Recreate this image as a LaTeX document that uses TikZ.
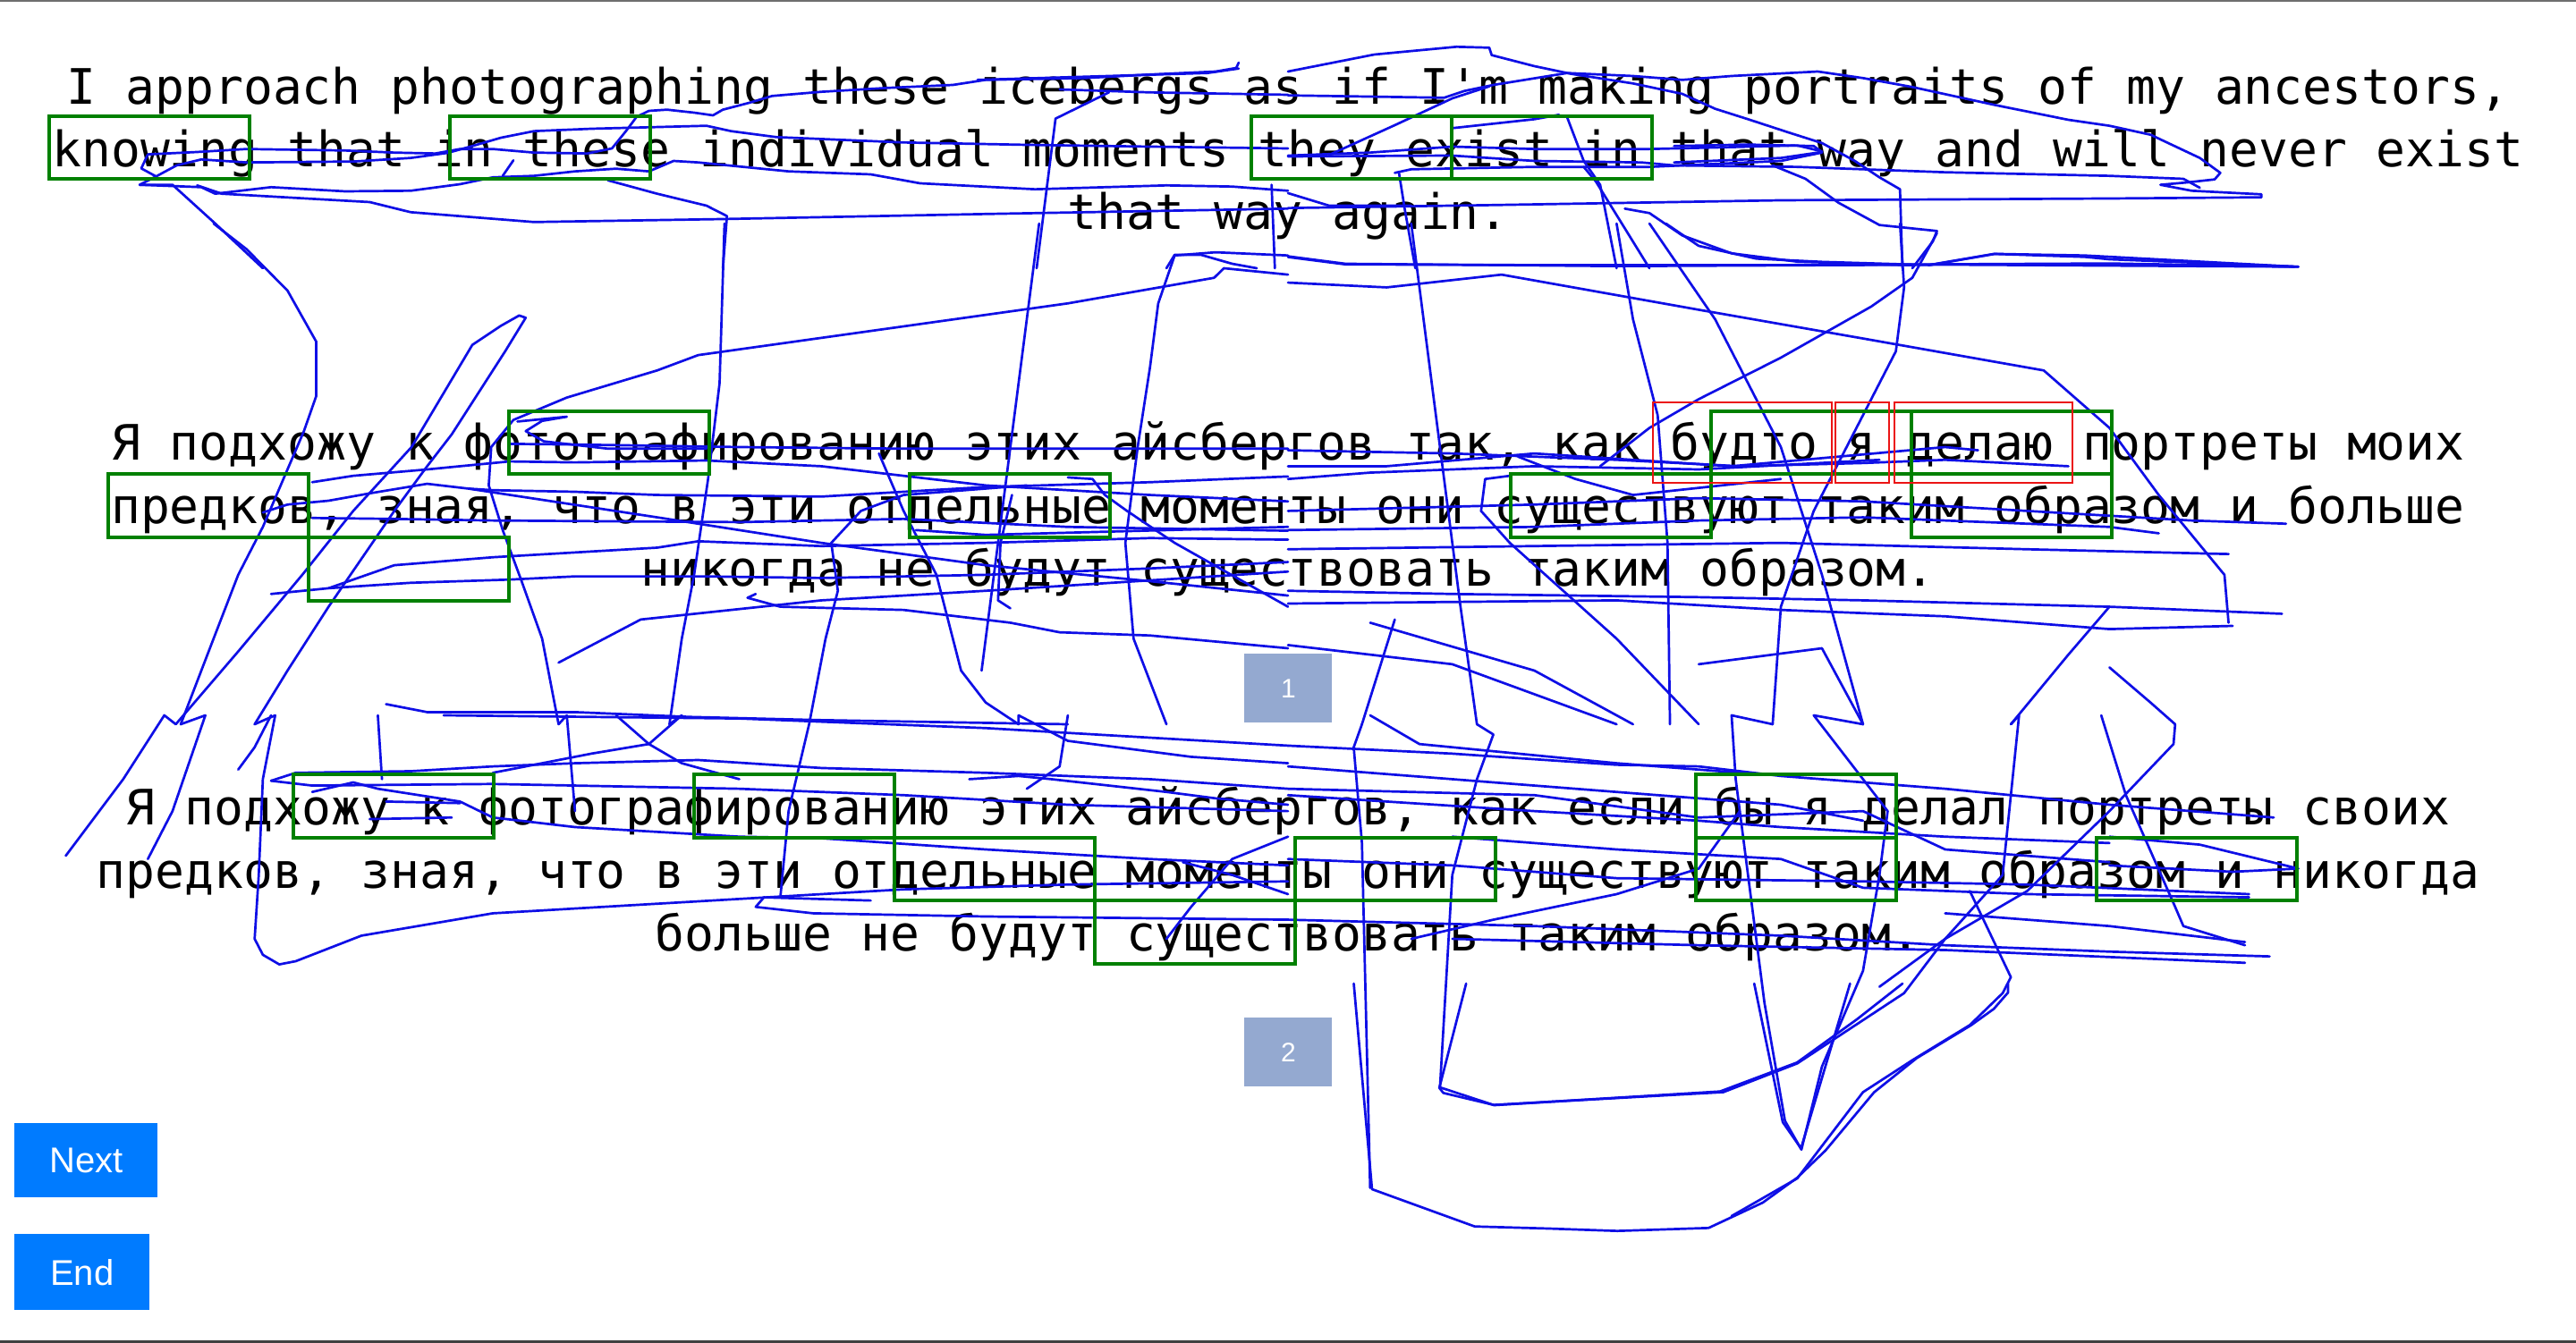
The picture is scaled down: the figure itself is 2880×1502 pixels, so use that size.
\documentclass[tikz,border=0pt]{standalone}
\usepackage{fontspec}
\setmonofont{DejaVu Sans Mono}
\newfontfamily\btnfont{Liberation Sans}
\definecolor{gazeblue}{RGB}{15,15,230}
\definecolor{boxgreen}{RGB}{0,128,0}
\definecolor{boxred}{RGB}{235,20,20}
\definecolor{btnblue}{RGB}{0,123,255}
\definecolor{pagebox}{RGB}{148,169,208}
\definecolor{topgray}{RGB}{110,110,110}
\definecolor{botgray}{RGB}{64,64,64}
\tikzset{
  txt/.style={font=\ttfamily\frenchspacing\fontsize{27.32pt}{34pt}\selectfont, anchor=base, inner sep=0pt},
  aoi/.style={draw=boxgreen, line width=2pt},
  wordbox/.style={draw=boxred, line width=1.2pt},
  gaze/.style={draw=gazeblue, line width=1.35pt, line join=round, line cap=round},
  button/.style={fill=btnblue, text=white, font=\btnfont\fontsize{20pt}{24pt}\selectfont, inner sep=0pt, anchor=north west},
  pagenum/.style={fill=pagebox, text=white, font=\btnfont\fontsize{15pt}{18pt}\selectfont, inner sep=0pt, anchor=north west, minimum width=49pt, minimum height=38.5pt},
  zA/.style={xscale=0.91837, yscale=0.33333},
  zB/.style={xscale=0.91837, yscale=0.35714},
  zC/.style={xscale=0.63776, yscale=0.33333},
}
\begin{document}
\begin{tikzpicture}[x=0.5pt, y=-0.5pt]
\fill[white] (0,0) rectangle (2880,1502);
\useasboundingbox (0,0) rectangle (2880,1502);
\draw[topgray, line width=1pt] (0,1) -- (2880,1);
\fill[botgray] (0,1498.5) rectangle (2880,1502);

% ---------- texts ----------
\node[txt] (en1) at (1440,117) {I approach photographing these icebergs as if I'm making portraits of my ancestors,};
\node[txt] (en2) at (1440,187) {knowing that in these individual moments they exist in that way and will never exist};
\node[txt] (en3) at (1440,257) {that way again.};
\node[txt] (ra1) at (1440,515) {Я подхожу к фотографированию этих айсбергов так, как будто я делаю портреты моих};
\node[txt] (ra2) at (1440,585.5) {предков, зная, что в эти отдельные моменты они существуют таким образом и больше};
\node[txt] (ra3) at (1440,655.5) {никогда не будут существовать таким образом.};
\node[txt] (rb1) at (1440,922) {Я подхожу к фотографированию этих айсбергов, как если бы я делал портреты своих};
\node[txt] (rb2) at (1440,993) {предков, зная, что в эти отдельные моменты они существуют таким образом и никогда};
\node[txt] (rb3) at (1440,1063) {больше не будут существовать таким образом.};

% ---------- page number boxes and buttons ----------
\node[pagenum] (p1) at (1391,731) {1};
\node[pagenum] (p2) at (1391,1138) {2};
\node[button, minimum width=80pt, minimum height=41.5pt] (next) at (16,1256) {Next};
\node[button, minimum width=75.5pt, minimum height=42.5pt] (end) at (16,1380) {End};

% ---------- gaze trace ----------
\begin{scope}[shift={(0,0)}, zA]
\draw[gaze] plot coordinates {(1508,210) (1505,228) (1480,240) (1400,250) (1320,262) (1200,268) (1160,285) (1080,295) (1000,308) (940,322) (912,345) (880,368) (868,387) (845,378) (812,368) (790,372) (775,392) (762,440) (745,498) (715,515) (650,512) (600,500) (560,500) (530,515) (480,512) (420,505) (300,500) (240,510) (180,518)};
\draw[gaze] plot coordinates {(180,518) (172,565) (190,592) (215,555) (245,535) (300,545) (430,542) (500,530) (545,513) (575,490) (610,462) (650,440) (720,432) (860,422) (890,440) (945,460) (1100,478) (1250,486) (1400,492) (1568,498)};
\draw[gaze] plot coordinates {(170,620) (245,628) (262,650) (330,628) (420,642) (500,640) (560,618) (600,595) (650,590) (700,575) (750,566) (790,575) (820,540) (850,545) (960,575) (1060,585) (1120,615) (1260,635) (1420,622) (1500,626) (1568,640)};
\draw[gaze] plot coordinates {(240,622) (270,650) (450,678) (500,712) (650,745) (880,735) (1200,718) (1568,700)};
\draw[gaze] plot coordinates {(190,592) (170,620) (210,620) (262,750) (320,900)};
\draw[gaze] plot coordinates {(740,605) (800,650) (860,690) (885,725) (880,900)};
\draw[gaze] plot coordinates {(1350,310) (1285,398) (1262,900)};
\draw[gaze] plot coordinates {(1420,900) (1430,855) (1462,855) (1500,885) (1530,900)};
\draw[gaze] plot coordinates {(1548,620) (1552,900)};
\draw[gaze] plot coordinates {(625,538) (612,590)};
\draw[gaze] plot coordinates {(1190,268) (1350,255) (1470,245) (1508,230)};
\draw[gaze] plot coordinates {(1290,300) (1400,310) (1568,318)};
\end{scope}

\begin{scope}[shift={(1440,0)}, zA]
\draw[gaze] plot coordinates {(0,240) (105,183) (205,157) (245,160) (248,185) (300,222) (345,248) (420,280) (480,315) (520,365) (560,400) (610,445) (650,480) (690,540) (720,595) (745,635) (748,900)};
\draw[gaze] plot coordinates {(0,320) (120,325) (190,328) (215,305) (250,285) (340,245) (420,255) (480,268) (540,255) (645,240) (700,262) (760,292) (860,352) (950,402) (1000,422) (1050,452) (1110,530) (1135,580) (1128,602) (1095,612) (1062,620) (1100,640) (1185,652) (1185,662) (1000,666) (600,672) (250,688) (0,698)};
\draw[gaze] plot coordinates {(0,522) (100,512) (200,492) (300,500) (440,500) (520,495) (620,488) (650,508)};
\draw[gaze] plot coordinates {(0,525) (200,522) (300,540) (430,545) (470,555) (620,560) (800,578) (1000,590) (1090,600) (1110,630)};
\draw[gaze] plot coordinates {(130,580) (150,568) (300,560) (440,560) (600,540) (650,512)};
\draw[gaze] plot coordinates {(135,578) (142,700) (155,900)};
\draw[gaze] plot coordinates {(340,395) (360,540) (380,620) (400,900)};
\draw[gaze] plot coordinates {(360,560) (375,610) (440,900)};
\draw[gaze] plot coordinates {(0,860) (70,885) (400,893) (800,888) (1230,895)};
\draw[gaze] plot coordinates {(410,700) (440,715) (480,790) (540,850) (620,878) (760,890)};
\draw[gaze] plot coordinates {(590,555) (630,600) (670,680) (720,755) (790,775) (785,810) (760,900)};
\draw[gaze] plot coordinates {(780,890) (860,852) (970,862) (1000,870) (1230,895)};
\draw[gaze] plot coordinates {(0,648) (50,690) (150,690)};
\draw[gaze] plot coordinates {(50,520) (130,420) (200,330) (245,290)};
\draw[gaze] plot coordinates {(200,430) (300,400) (330,385)};
\draw[gaze] plot coordinates {(470,490) (560,485) (640,490) (650,510) (600,530) (470,545)};
\end{scope}

\begin{scope}[shift={(0,250)}, zB]
\draw[gaze] plot coordinates {(260,0) (300,80) (350,210) (385,370) (385,540) (370,650) (345,800) (320,950) (290,1100) (260,1300) (220,1568)};
\draw[gaze] plot coordinates {(632,288) (640,295) (615,400) (585,520) (550,660) (520,760) (480,900) (440,1050) (400,1200) (350,1400) (310,1568)};
\draw[gaze] plot coordinates {(632,288) (610,320) (575,380) (501,700) (430,900) (368,1100) (290,1340) (214,1568)};
\draw[gaze] plot coordinates {(1568,100) (1480,90) (1430,100) (1410,250) (1400,450) (1385,700) (1370,1000) (1380,1300) (1420,1568)};
\draw[gaze] plot coordinates {(1568,160) (1490,140) (1478,170) (1300,250) (850,412) (800,460) (690,545) (625,615) (598,700) (595,820) (612,960) (635,1120) (660,1300) (680,1568)};
\draw[gaze] plot coordinates {(882,0) (876,500) (862,800) (845,1100) (830,1300) (815,1568)};
\draw[gaze] plot coordinates {(1265,0) (1245,400) (1225,800) (1205,1200) (1195,1400)};
\draw[gaze] plot coordinates {(620,690) (700,692) (900,700) (1100,705) (1568,705)};
\draw[gaze] plot coordinates {(630,620) (690,605) (660,618) (640,650) (662,682) (740,705) (860,705)};
\draw[gaze] plot coordinates {(380,810) (430,790) (520,770) (620,745) (700,748) (860,742) (1000,760) (1200,820) (1400,850) (1568,870)};
\draw[gaze] plot coordinates {(320,905) (350,880) (400,868) (450,845) (520,815) (570,830) (600,835) (700,840) (800,850) (1000,855) (1200,825) (1400,810) (1568,792)};
\draw[gaze] plot coordinates {(380,922) (480,925) (600,930) (900,935) (1100,925) (1300,950) (1568,962)};
\draw[gaze] plot coordinates {(570,830) (800,920) (1000,1000) (1200,1070) (1400,1120) (1568,1165)};
\draw[gaze] plot coordinates {(330,1160) (400,1142) (500,1125) (620,1115) (700,1105) (860,1105) (1000,1110) (1200,1100) (1400,1080) (1568,1060)};
\draw[gaze] plot coordinates {(400,1142) (480,1070) (600,1045) (800,1015) (850,995) (1000,1010) (1200,1000) (1400,985) (1568,990)};
\draw[gaze] plot coordinates {(920,1160) (910,1172) (950,1200) (1100,1210) (1230,1250) (1290,1280) (1400,1290) (1568,1330)};
\draw[gaze] plot coordinates {(680,1375) (780,1240) (1000,1180) (1200,1150) (1568,1090)};
\draw[gaze] plot coordinates {(470,1505) (520,1530) (700,1530) (840,1545) (1000,1555) (1300,1568)};
\draw[gaze] plot coordinates {(1070,720) (1100,900) (1140,1100) (1170,1400) (1200,1500) (1240,1568)};
\draw[gaze] plot coordinates {(1300,795) (1330,800) (1345,850) (1372,900) (1430,1000) (1568,1200)};
\draw[gaze] plot coordinates {(985,1568) (1005,1300) (1020,1150) (1012,1000) (1048,900) (1100,850) (1250,820)};
\draw[gaze] plot coordinates {(1230,1205) (1215,1180) (1218,1000) (1232,850)};
\draw[gaze] plot coordinates {(1115,960) (1200,975) (1568,950)};
\end{scope}

\begin{scope}[shift={(1440,250)}, zB]
\draw[gaze] plot coordinates {(0,105) (70,128) (300,130) (600,130) (1000,125) (1225,135)};
\draw[gaze] plot coordinates {(0,185) (120,200) (260,160) (500,270) (700,360) (920,460) (1000,640) (1060,850) (1140,1100) (1145,1250)};
\draw[gaze] plot coordinates {(150,0) (170,400) (190,800) (210,1200) (230,1568)};
\draw[gaze] plot coordinates {(400,0) (420,300) (450,600) (462,1000) (465,1568)};
\draw[gaze] plot coordinates {(440,0) (520,300) (550,450) (600,700) (650,1100) (700,1568)};
\draw[gaze] plot coordinates {(790,30) (760,170) (710,260) (600,420) (500,550) (440,640) (380,760)};
\draw[gaze] plot coordinates {(745,0) (750,200) (740,400) (700,600) (640,900) (600,1200) (590,1568)};
\draw[gaze] plot coordinates {(460,0) (500,70) (570,110) (650,120) (780,130) (860,95) (970,100) (1225,135)};
\draw[gaze] plot coordinates {(0,710) (200,720) (400,740) (550,760) (700,750) (800,740) (950,760)};
\draw[gaze] plot coordinates {(0,800) (100,780) (300,760) (500,770) (720,740)};
\draw[gaze] plot coordinates {(0,900) (300,880) (500,860) (700,870) (900,900) (1100,930) (1215,940)};
\draw[gaze] plot coordinates {(0,960) (300,950) (500,930) (700,920) (1000,950) (1060,970)};
\draw[gaze] plot coordinates {(0,1020) (300,1010) (600,1000) (900,1020) (1145,1035)};
\draw[gaze] plot coordinates {(0,1150) (200,1160) (500,1170) (700,1180) (1000,1200) (1210,1222)};
\draw[gaze] plot coordinates {(0,1190) (400,1180) (600,1210) (800,1230) (1000,1270) (1150,1260)};
\draw[gaze] plot coordinates {(0,1320) (200,1380) (400,1568)};
\draw[gaze] plot coordinates {(100,1250) (300,1400) (420,1568)};
\draw[gaze] plot coordinates {(880,1568) (950,1350) (1000,1200)};
\draw[gaze] plot coordinates {(1000,1390) (1050,1500) (1080,1568)};
\draw[gaze] plot coordinates {(500,1380) (650,1330) (700,1568)};
\draw[gaze] plot coordinates {(270,790) (240,800) (235,900) (270,1000) (400,1300) (500,1568)};
\draw[gaze] plot coordinates {(0,760) (120,760) (300,720) (540,760) (800,700) (840,710)};
\draw[gaze] plot coordinates {(280,730) (350,800) (420,850) (600,800)};
\draw[gaze] plot coordinates {(130,1240) (90,1568)};
\end{scope}

\begin{scope}[shift={(0,800)}, zB]
\draw[gaze] plot coordinates {(214,28) (200,0) (150,200) (80,440)};
\draw[gaze] plot coordinates {(220,28) (250,0) (230,150) (210,300) (180,450)};
\draw[gaze] plot coordinates {(310,28) (335,0) (320,200) (315,500) (310,700) (320,750) (340,780) (360,770) (440,690) (600,620) (900,575) (1100,545) (1300,530) (1568,520)};
\draw[gaze] plot coordinates {(330,205) (360,180) (500,175) (600,160) (700,150) (850,140) (1000,165) (1200,180) (1400,200) (1568,230)};
\draw[gaze] plot coordinates {(330,205) (380,220) (600,215) (900,230) (1100,250) (1300,280) (1568,300)};
\draw[gaze] plot coordinates {(380,240) (430,210) (460,230) (560,270) (600,320) (700,350) (900,380) (1000,385) (1200,420) (1400,450) (1568,470)};
\draw[gaze] plot coordinates {(470,270) (560,275)};
\draw[gaze] plot coordinates {(450,325) (550,320)};
\draw[gaze] plot coordinates {(1060,580) (930,570) (920,600) (990,620) (1200,630) (1568,640)};
\draw[gaze] plot coordinates {(1180,200) (1240,190) (1280,200) (1420,240) (1480,260) (1568,280)};
\draw[gaze] plot coordinates {(540,0) (900,10) (1200,40) (1400,70) (1568,95)};
\draw[gaze] plot coordinates {(1240,28) (1240,0) (1300,80) (1450,130) (1568,150)};
\draw[gaze] plot coordinates {(1420,700) (1450,600) (1500,450) (1568,380)};
\draw[gaze] plot coordinates {(1568,560) (1500,500) (1440,460)};
\draw[gaze] plot coordinates {(1300,0) (1290,160) (1250,230)};
\draw[gaze] plot coordinates {(750,0) (790,90) (830,150) (900,200)};
\draw[gaze] plot coordinates {(680,28) (690,0) (700,300)};
\draw[gaze] plot coordinates {(460,0) (465,200)};
\draw[gaze] plot coordinates {(290,170) (310,100) (330,0)};
\draw[gaze] plot coordinates {(815,28) (830,0) (790,90) (720,120) (600,180)};
\draw[gaze] plot coordinates {(950,570) (960,300) (985,28)};
\end{scope}

\begin{scope}[shift={(1440,800)}, zB]
\draw[gaze] plot coordinates {(0,95) (200,120) (400,155) (500,160) (600,190) (800,230) (1000,280) (1200,320)};
\draw[gaze] plot coordinates {(0,160) (200,200) (400,240) (600,280) (700,330)};
\draw[gaze] plot coordinates {(90,28) (80,100) (90,400) (100,1480)};
\draw[gaze] plot coordinates {(230,28) (250,60) (230,200) (200,500) (185,1165) (250,1220) (530,1180) (620,1090) (750,870) (800,700) (870,500) (890,0) (880,28)};
\draw[gaze] plot coordinates {(590,28) (540,0) (545,200) (560,500) (580,900) (605,1270) (625,1360) (650,1100) (700,800) (720,500) (730,300) (640,0) (700,28)};
\draw[gaze] plot coordinates {(990,0) (1020,250) (1080,600) (1090,660) (1165,720)};
\draw[gaze] plot coordinates {(1080,28) (1078,90) (1000,300) (900,550) (800,700) (720,850)};
\draw[gaze] plot coordinates {(830,550) (880,820) (870,870) (830,970) (760,1080) (700,1180) (620,1450) (540,1568)};
\draw[gaze] plot coordinates {(0,640) (300,660) (600,690) (800,720) (1000,740) (1195,755)};
\draw[gaze] plot coordinates {(200,700) (500,720) (800,735) (1165,775)};
\draw[gaze] plot coordinates {(800,620) (1000,660) (1165,710)};
\draw[gaze] plot coordinates {(1000,380) (1110,405) (1230,480) (1150,490) (1000,470)};
\draw[gaze] plot coordinates {(150,700) (250,640) (400,560) (500,480) (550,300)};
\draw[gaze] plot coordinates {(0,250) (300,300) (500,330) (600,350) (800,380) (1000,400)};
\draw[gaze] plot coordinates {(200,380) (400,420) (600,450) (700,540) (900,560) (1170,570)};
\draw[gaze] plot coordinates {(0,450) (200,470) (400,510) (700,520) (900,530) (1170,560)};
\draw[gaze] plot coordinates {(100,0) (160,90) (400,150) (550,180)};
\draw[gaze] plot coordinates {(0,230) (300,250) (500,320) (700,300) (800,420) (1000,460)};
\end{scope}

\begin{scope}[shift={(1400,1100)}, zC]
\draw[gaze] plot coordinates {(178,0) (210,690) (390,815) (520,822) (640,830) (800,820) (895,735) (955,652) (1005,560) (1090,365) (1165,250) (1260,140) (1300,85) (1325,30) (1325,0)};
\draw[gaze] plot coordinates {(375,0) (328,350) (335,367) (425,408) (820,362) (955,265) (1060,120) (1140,0)};
\draw[gaze] plot coordinates {(880,0) (930,465) (962,553) (1048,0)};
\end{scope}

% ---------- areas of interest ----------
\foreach \c in {0,2,6,7}
  \draw[aoi] ({55+\c*224},130) rectangle ++(224,70);
\foreach \c/\r in {2/0,8/0,9/0,0/1,4/1,7/1,9/1,1/2}
  \draw[aoi] ({121+\c*224},{460+\r*70.5}) rectangle ++(224,70.5);
\foreach \c/\r in {1/0,3/0,8/0,4/1,6/1,8/1,10/1,5/2}
  \draw[aoi] ({104+\c*224},{866+\r*70.5}) rectangle ++(224,70.5);

% ---------- word boxes ----------
\draw[wordbox] (1848,450) rectangle (2048,540);
\draw[wordbox] (2052,450) rectangle (2112,540);
\draw[wordbox] (2118,450) rectangle (2317,540);
\end{tikzpicture}
\end{document}
